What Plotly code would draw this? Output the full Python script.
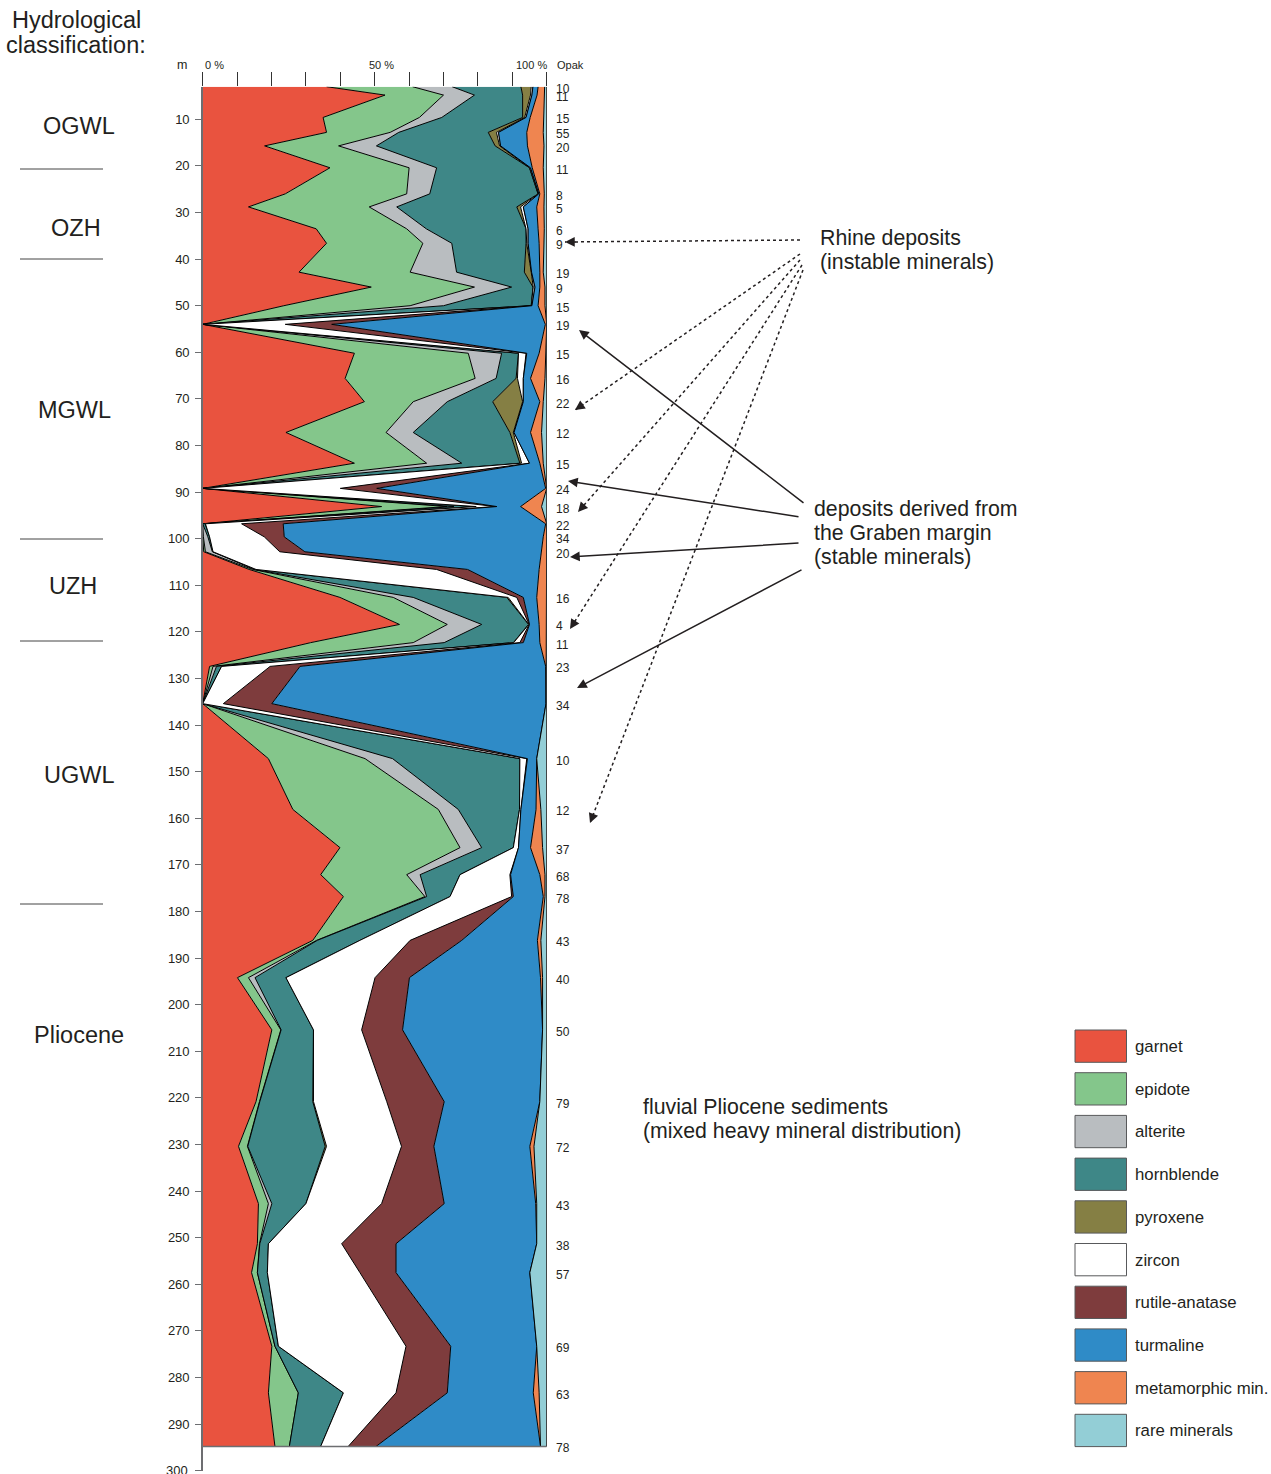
import plotly.graph_objects as go

W, H = 1271, 1474

depth = [3.0, 4.8, 9.6, 12.8, 15.7, 20.4, 26.0, 28.8, 33.5, 36.6, 42.8, 46.0, 50.0, 54.0,
         60.2, 65.6, 70.6, 77.2, 83.8, 89.2, 93.1, 96.8, 99.6, 102.8, 106.6, 112.6, 118.4,
         122.3, 127.4, 135.4, 147.2, 158.1, 166.3, 172.1, 176.8, 186.2, 194.2, 205.4, 220.8,
         230.4, 242.7, 251.3, 257.5, 273.3, 283.3, 294.8]
opak = [10, 11, 15, 55, 20, 11, 8, 5, 6, 9, 19, 9, 15, 19, 15, 16, 22, 12, 15, 24, 18, 22, 34,
        20, None, 16, 4, 11, 23, 34, 10, 12, 37, 68, 78, 43, 40, 50, 79, 72, 43, 38, 57, 69, 63, 78]

garnet = [36, 53, 35, 36, 18, 37, 24, 13.3, 33, 36, 28, 49, 23.6, 0, 44.1, 41.4, 47, 24.2, 44.1, 0,
          52, 0, 0, 0.3, 13.5, 39.9, 57.2, 31.4, 2, 0, 19.1, 26.2, 39.9, 34.3, 40.9, 32, 10.1, 20.1,
          15.5, 10.4, 16.2, 15.9, 14.2, 20.1, 19.1, 21]
epidote = [25, 17, 28, 18.5, 21.5, 23, 35.3, 35.1, 26.3, 28, 32.3, 30, 36.7, 0, 33.1, 37.8, 14.2,
           29.1, 21, 0, 19, 0, 0.2, 0.5, 1, 15.5, 13.9, 29.8, 1, 0, 28.1, 42.3, 34.9, 25, 23.7,
           1.1, 3.2, 2.6, 1, 2.6, 2.9, 0.6, 1.7, 0.9, 8.7, 4.2]
alterite = [11.5, 9, 6.5, 2.5, 11, 8, 6.7, 8, 5.7, 8.4, 13.5, 10.8, 9.7, 0, 9.7, 6.1, 9.9, 7.9,
            10.2, 0, 2, 0, 1.3, 2, 0.5, 5.8, 10, 9, 1, 0, 8, 5.8, 6.3, 3.9, 0.5, 0.2, 1.9, 0.1,
            0.1, 0.1, 1, 0.1, 0, 0, 0, 0]
hornblende = [20, 14, 23.5, 26, 34.5, 27, 31.5, 34.9, 29, 21.6, 19.7, 6.2, 25.5, 0, 4.9, 5.8,
              13.2, 28.1, 16.9, 0, 6, 0.7, 0.5, 0.2, 0.5, 27.2, 13.6, 20.1, 1.5, 0, 37, 17.8, 9.2,
              11.6, 6.8, 12.4, 9, 9.4, 15.4, 22.5, 9.9, 2.5, 2.9, 1, 13.1, 9.1]
pyroxene = [3, 2.3, 0.6, 2.4, 1.3, 0, 0, 1.1, 0, 0.2, 2, 0.1, 0, 0, 0, 0.4, 8.7, 1, 0.5, 0,
            0.5, 0.1, 0, 0, 0, 0.4, 0.1, 0.1, 0, 0, 0, 0, 0, 0, 0, 0, 0, 0, 0.2, 0.4, 0, 0, 0,
            0, 0, 0]
zircon = [0.5, 0.4, 0.4, 0.6, 0.3, 0.3, 0.2, 0.8, 0.6, 0.4, 0.1, 0.5, 0.2, 24, 2.2, 1.7, 0.2,
          0.2, 2.3, 40, 5.5, 10.5, 15.9, 19.4, 52.5, 2.5, 0.1, 1.8, 14.1, 6, 2, 0.4, 1.5, 14.5,
          17.9, 14.6, 25.9, 14, 21.3, 21.8, 22, 21.3, 26.9, 37.1, 15.3, 8]
rutile = [0, 0, 0, 0, 0, 0, 0, 0, 0, 0, 0, 0, 0, 13.5, 0.2, 0, 0, 0, 0, 10.6, 0.5, 12.1, 5.8,
          7.3, 9, 1.9, 0.1, 1, 8.7, 14.1, 0.2, 0, 0, 0.2, 0.5, 15, 10, 11.9, 16.7, 9.4, 18.2,
          15.8, 10.5, 13, 14.9, 8.1]
turmaline = [1.5, 1.5, 1.2, 8.2, 7.8, 0.5, 0.3, 3.9, 2.9, 3.2, 2.4, 1.4, 1.8, 62.1, 3.6, 2.1,
             4.8, 4.8, 3, 49.1, 6.9, 76.3, 75.3, 68.8, 20.8, 3.9, 2.8, 4.8, 71.4, 79.7, 2.7, 4.4,
             3.5, 8.5, 8.7, 22, 38.1, 40.7, 27.8, 27.9, 26.6, 40.9, 38.9, 25, 25, 47.8]
metamorphic = [1.9, 2.1, 3.8, 4.8, 4.8, 3.2, 1.3, 2.1, 1.8, 1.4, 1, 1.5, 2, 0.4, 1.9, 4.2, 1,
               3.2, 1, 0.3, 6.1, 0.3, 1, 1.5, 2.2, 2.9, 2.2, 2, 0.3, 0, 0, 1.4, 3.5, 1.5, 0.5,
               1, 0.6, 0, 0, 1.2, 0.3, 0, 0, 0, 1.7, 0]
rare = [0.6, 0.7, 1, 1, 0.8, 1, 0.7, 0.8, 0.7, 0.8, 1, 0.5, 0.5, 0, 0.3, 0.5, 1, 1.5, 1, 0,
        1.5, 0, 0, 0, 0, 0, 0, 0, 0, 0.2, 2.9, 1.7, 1.2, 0.5, 0.5, 1.7, 1.2, 1.2, 2, 3.7, 2.9,
        2.9, 4.9, 2.9, 2.2, 1.8]

names = ["garnet", "epidote", "alterite", "hornblende", "pyroxene", "zircon",
         "rutile-anatase", "turmaline", "metamorphic min.", "rare minerals"]
series = [garnet, epidote, alterite, hornblende, pyroxene, zircon, rutile, turmaline,
          metamorphic, rare]
colors = ["#E9533F", "#84C68B", "#B9BDC0", "#3E8787", "#857F44", "#FFFFFF",
          "#7E3C3D", "#2F8BC7", "#EF8550", "#93CED6"]

FONT = "Liberation Sans, Arial, Helvetica, sans-serif"
TXT = "#231F20"


def px(x):
    return x / W


def py(y):
    return 1 - y / H


fig = go.Figure()
for nm, vals, col in zip(names, series, colors):
    fig.add_trace(go.Scatter(
        x=vals, y=depth, name=nm, mode="lines", stackgroup="one", orientation="h",
        line=dict(color="black", width=1), fillcolor=col, showlegend=False,
        hoverinfo="skip"))

shapes = []
annotations = []


def text(t, x, y, size, anchor="left"):
    annotations.append(dict(x=px(x), y=py(y), xref="paper", yref="paper", text=t,
                            showarrow=False, xanchor=anchor, yanchor="middle",
                            font=dict(size=size, color=TXT, family=FONT)))


# bottom edge and right border of the column
shapes.append(dict(type="line", xref="x", yref="y", x0=0, x1=100, y0=depth[-1], y1=depth[-1],
                   line=dict(color="#6D6E71", width=1.5)))
shapes.append(dict(type="line", xref="x", yref="y", x0=100, x1=100, y0=depth[0], y1=depth[-1],
                   line=dict(color="#333333", width=1.2)))

# 300 m tick at the very bottom
shapes.append(dict(type="line", xref="paper", yref="y", x0=px(196.7), x1=px(202.7),
                   y0=300, y1=300, line=dict(color="#6D6E71", width=1)))
annotations.append(dict(x=px(190), y=300, xref="paper", yref="y", text="300",
                        showarrow=False, xanchor="right", yanchor="middle",
                        font=dict(size=13, color=TXT, family=FONT)))

# opak numbers
for d, o in zip(depth, opak):
    if o is None:
        continue
    annotations.append(dict(x=px(554), y=d, xref="paper", yref="y", text=str(o),
                            showarrow=False, xanchor="left", yanchor="middle", yshift=-2,
                            font=dict(size=12, color=TXT, family=FONT)))

# top labels
for t, x, anc in [("0 %", 203, "left"), ("50 %", 381, "center"), ("100 %", 531, "center"),
                  ("Opak", 555, "left"), ("m", 182, "center")]:
    text(t, x, 65, 12.5 if t == "m" else 11, anc)

# left classification
text("Hydrological", 76, 20, 23.5, "center")
text("classification:", 76, 45, 23.5, "center")
for t, x, y in [("OGWL", 79, 126), ("OZH", 76, 228), ("MGWL", 74, 410), ("UZH", 73, 586),
                ("UGWL", 79, 775), ("Pliocene", 79, 1035)]:
    text(t, x, y, 23.5, "center")
for y in [169, 259, 539, 641, 904]:
    shapes.append(dict(type="line", xref="paper", yref="paper", x0=px(20), x1=px(103),
                       y0=py(y), y1=py(y), line=dict(color="#444444", width=1)))

# right side texts
for t, x, y in [("Rhine deposits", 818, 238), ("(instable minerals)", 818, 262),
                ("deposits derived from", 812, 509), ("the Graben margin", 812, 533),
                ("(stable minerals)", 812, 557),
                ("fluvial Pliocene sediments", 641, 1107),
                ("(mixed heavy mineral distribution)", 641, 1131)]:
    text(t, x, y, 21.3, "left")

# dotted arrows (Rhine deposits)
dotted = [((800, 240), (565, 242)), ((800, 254), (575, 410)), ((800, 260), (578, 512)),
          ((802, 265), (570, 629)), ((803, 270), (590, 823))]
for (tx, ty), (hx, hy) in dotted:
    shapes.append(dict(type="line", xref="paper", yref="paper", x0=px(tx), y0=py(ty),
                       x1=px(hx), y1=py(hy), line=dict(color="#231F20", width=1.5, dash="dot")))
    dx, dy = tx - hx, ty - hy
    L = (dx * dx + dy * dy) ** 0.5
    annotations.append(dict(x=px(hx), y=py(hy), xref="paper", yref="paper", text="",
                            showarrow=True, axref="pixel", ayref="pixel",
                            ax=dx / L * 12, ay=dy / L * 12, arrowhead=2, arrowsize=1.3,
                            arrowwidth=1.5, arrowcolor="#231F20", standoff=0))

# solid arrows (Graben margin)
solid = [((805, 504), (579, 330)), ((800, 517), (568, 481)), ((800, 543), (570, 557)),
         ((803, 569), (577, 688))]
for (tx, ty), (hx, hy) in solid:
    annotations.append(dict(x=px(hx), y=py(hy), xref="paper", yref="paper", text="",
                            showarrow=True, axref="pixel", ayref="pixel",
                            ax=tx - hx, ay=ty - hy, arrowhead=2, arrowsize=1.3,
                            arrowwidth=1.5, arrowcolor="#231F20", standoff=0))

# legend
for i, (nm, col) in enumerate(zip(names, colors)):
    top = 1030 + 42.7 * i
    shapes.append(dict(type="rect", xref="paper", yref="paper", x0=px(1075), x1=px(1126.5),
                       y0=py(top), y1=py(top + 32.3), fillcolor=col,
                       line=dict(color="#58595B", width=1)))
    text(nm, 1133, top + 16.5, 16.8, "left")

fig.update_layout(
    width=W, height=H, margin=dict(l=0, r=0, t=0, b=0),
    paper_bgcolor="white", plot_bgcolor="white",
    font=dict(family=FONT, color=TXT),
    shapes=shapes, annotations=annotations,
    xaxis=dict(domain=[px(202.7), px(546.7)], range=[0, 100], side="top",
               tickvals=list(range(0, 101, 10)), showticklabels=False, ticks="outside",
               ticklen=14, tickwidth=1, tickcolor="#333333", showgrid=False, zeroline=False,
               showline=False, fixedrange=True),
    yaxis=dict(domain=[py(1470.7), py(86.7)], range=[300.01, 3.0], tick0=0, dtick=10,
               ticks="outside", ticklen=6, tickwidth=1, tickcolor="#6D6E71",
               showline=True, linecolor="#6D6E71", linewidth=1.5, showgrid=False,
               zeroline=False, tickfont=dict(size=13, color=TXT, family=FONT),
               ticklabelstandoff=3, fixedrange=True),
)

fig.write_html("out.html", config={"displayModeBar": False, "staticPlot": True},
               post_script="document.body.style.margin='0px';"
                           "document.body.style.overflow='hidden';")
